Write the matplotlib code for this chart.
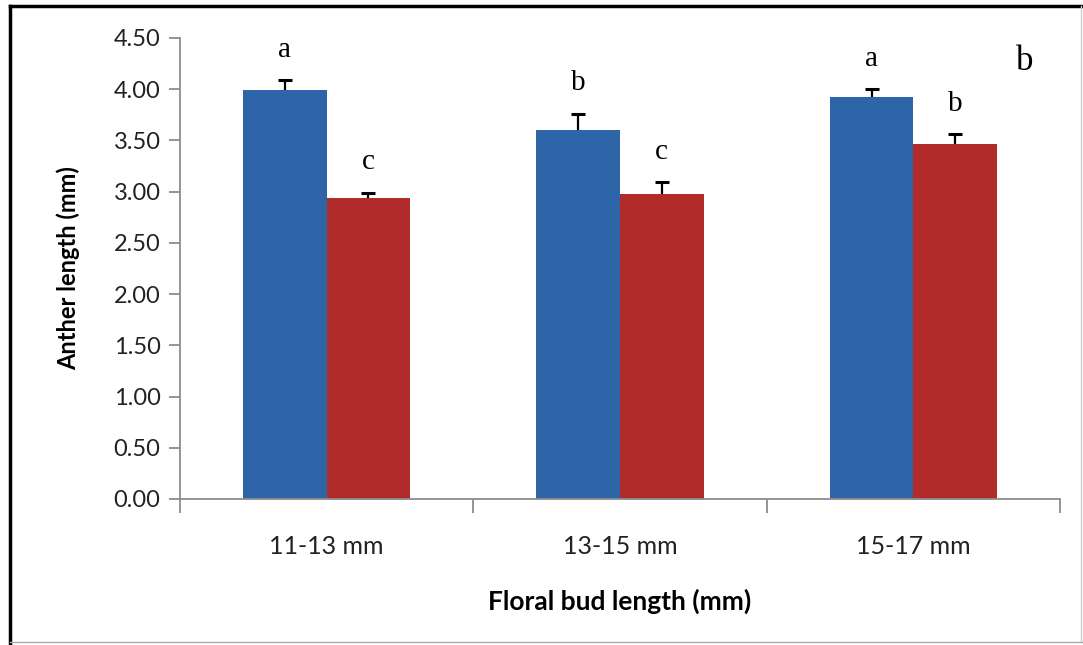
import numpy as np
import matplotlib.pyplot as plt
from matplotlib.lines import Line2D

# data
categories = ["11-13 mm", "13-15 mm", "15-17 mm"]
blueVals = [3.99, 3.60, 3.92]
blueErr = [0.10, 0.16, 0.08]
redVals = [2.94, 2.98, 3.47]
redErr = [0.05, 0.11, 0.09]
blueLetters = ["a", "b", "a"]
redLetters = ["c", "c", "b"]
yTicks = [0.0, 0.5, 1.0, 1.5, 2.0, 2.5, 3.0, 3.5, 4.0, 4.5]

blueColour = "#2E65A8"
redColour = "#B12B2A"
axisGrey = "#8c8c8c"

fig = plt.figure(figsize=(10.83, 6.45), dpi=100)
ax = fig.add_axes([0.1662, 0.2264, 0.8126, 0.7147])

x = np.arange(len(categories))
barW = 0.285


def drawSeries(xPos, vals, errs, colour, letters):
    """bars, an upward-only error bar with one cap, and the letter above"""
    ax.bar(xPos, vals, barW, color=colour, zorder=2)
    _, caps, _ = ax.errorbar(xPos, vals, yerr=[np.zeros(len(vals)), errs],
                             fmt="none", ecolor="black", elinewidth=1.6,
                             capsize=5, capthick=2.2, zorder=3)
    caps[0].set_visible(False)
    for xi, v, e, letter in zip(xPos, vals, errs, letters):
        ax.text(xi, v + e + 0.17, letter, ha="center", va="bottom",
                fontsize=21, family="Liberation Serif")


drawSeries(x - barW / 2, blueVals, blueErr, blueColour, blueLetters)
drawSeries(x + barW / 2, redVals, redErr, redColour, redLetters)

ax.set_xlim(-0.5, len(categories) - 0.5)
ax.set_ylim(0, 4.5)
ax.set_yticks(yTicks)
ax.set_yticklabels(["%.2f" % v for v in yTicks])
ax.set_xticks(x)
ax.set_xticklabels(categories)
ax.set_xticks(np.arange(len(categories) + 1) - 0.5, minor=True)

for side in ["top", "right"]:
    ax.spines[side].set_visible(False)
for side in ["left", "bottom"]:
    ax.spines[side].set_color(axisGrey)
    ax.spines[side].set_linewidth(1.3)

ax.tick_params(axis="y", length=8, width=1.3, color=axisGrey, labelsize=17, pad=6)
ax.tick_params(axis="x", which="major", length=0, labelsize=18, pad=26)
ax.tick_params(axis="x", which="minor", length=10, width=1.3, color=axisGrey)
for lbl in ax.get_xticklabels() + ax.get_yticklabels():
    lbl.set_family("Lato")
    lbl.set_color("#222222")

ax.set_ylabel("Anther length (mm)", fontsize=17, fontweight="bold",
              family="Lato", labelpad=24)
ax.set_xlabel("Floral bud length (mm)", fontsize=19, fontweight="bold",
              family="Lato", labelpad=22)

fig.text(0.946, 0.905, "b", fontsize=25, family="Liberation Serif",
         ha="center", va="center")

# frame round the figure
fig.add_artist(Line2D([0.0092, 0.0092], [0.0, 0.991], transform=fig.transFigure,
                      color="black", linewidth=2.5))
fig.add_artist(Line2D([0.0092, 1.0], [0.991, 0.991], transform=fig.transFigure,
                      color="black", linewidth=2.5))
fig.add_artist(Line2D([0.998, 0.998], [0.004, 0.991], transform=fig.transFigure,
                      color="#cccccc", linewidth=1))
fig.add_artist(Line2D([0.0092, 1.0], [0.004, 0.004], transform=fig.transFigure,
                      color="#aaaaaa", linewidth=1))

fig.savefig("out.png", dpi=100)
